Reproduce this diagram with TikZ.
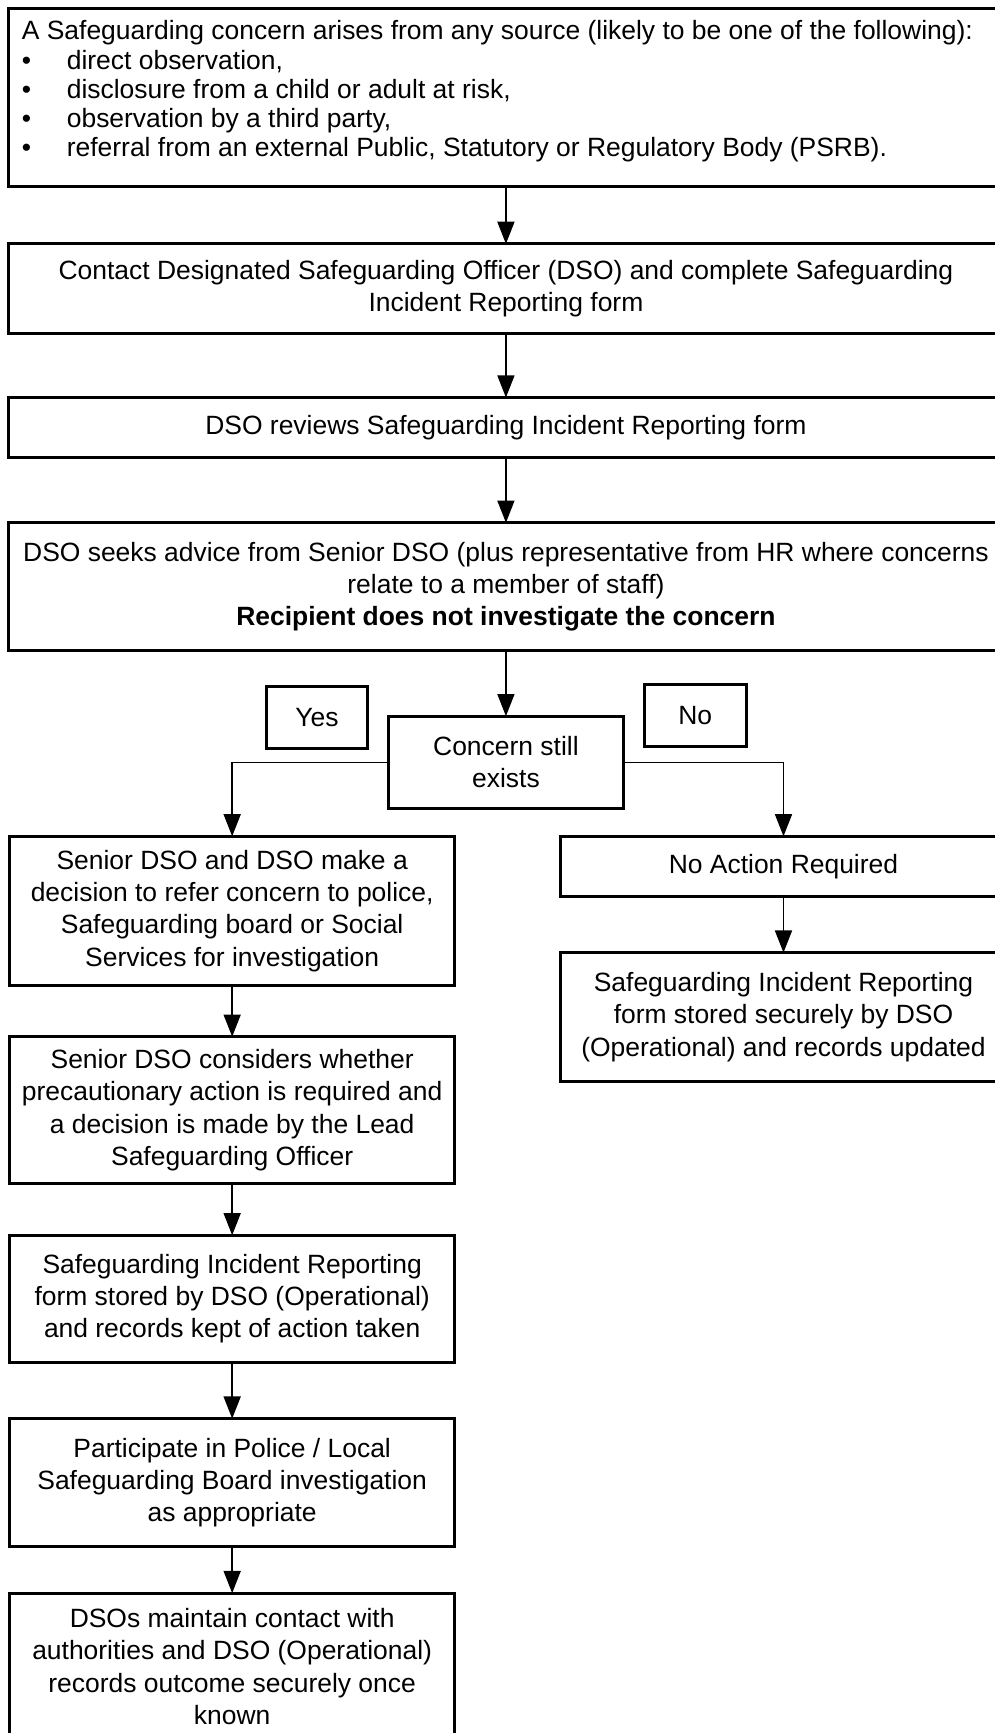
\documentclass[tikz,border=0pt]{standalone}
\usepackage{fontspec}
\setmainfont{Liberation Sans}
\usetikzlibrary{arrows.meta,positioning}

\begin{document}
\begin{tikzpicture}[
  every node/.style={font=\fontsize{11.9pt}{14.5pt}\selectfont,align=center},
  widebox/.style={rectangle,draw=black,line width=1.35pt,outer sep=0pt,
    inner xsep=1pt,minimum width=157.2mm},
  colbox/.style={rectangle,draw=black,line width=1.35pt,outer sep=0pt,
    inner xsep=1pt,minimum width=70.4mm},
  decision/.style={rectangle,draw=black,line width=1.35pt,outer sep=0pt,
    minimum width=37.2mm,minimum height=14.6mm},
  tagbox/.style={rectangle,draw=black,line width=1.35pt,outer sep=0pt,
    minimum width=16mm,minimum height=9.8mm},
  arrow/.style={-{Triangle[length=3.5mm,width=2.7mm]},line width=0.6pt}
]
\useasboundingbox (0,0) rectangle (157.37mm,-274.1mm);
\node[widebox,anchor=north west,align=left,minimum height=28.3mm,
  font=\fontsize{11.9pt}{13.1pt}\selectfont] (sources) at (1.42mm,-1.27mm)
  {A Safeguarding concern arises from any source (likely to be one of the following):\hspace*{7.7pt}\\
   \makebox[20.25pt][l]{\textbullet}direct observation,\\
   \makebox[20.25pt][l]{\textbullet}disclosure from a child or adult at risk,\\
   \makebox[20.25pt][l]{\textbullet}observation by a third party,\\
   \makebox[20.25pt][l]{\textbullet}referral from an external Public, Statutory or Regulatory Body (PSRB).\rule[-8pt]{0pt}{8pt}};
\node[widebox,below=9mm of sources,minimum height=14.2mm] (contact)
  {Contact Designated Safeguarding Officer (DSO) and complete Safeguarding\\Incident Reporting form};
\node[widebox,below=10.1mm of contact,minimum height=9.5mm] (review)
  {DSO reviews Safeguarding Incident Reporting form};
\node[widebox,below=10.3mm of review,minimum height=20.2mm] (advice)
  {DSO seeks advice from Senior DSO (plus representative from HR where concerns\\relate to a member of staff)\\\textbf{Recipient does not investigate the concern}};
\node[decision,below=10.4mm of advice] (exists) {Concern still\\exists};
\node[tagbox,left=3.3mm of exists,yshift=7.1mm] (yes) {Yes};
\node[tagbox,right=3.3mm of exists,yshift=7.4mm,minimum width=16.1mm] (no) {No};
% yes branch
\node[colbox,below=4.4mm of exists,xshift=-43.3mm,minimum height=23.6mm] (refer)
  {Senior DSO and DSO make a\\decision to refer concern to police,\\Safeguarding board or Social\\Services for investigation};
\node[colbox,below=8.1mm of refer,minimum height=23.2mm] (precaution)
  {Senior DSO considers whether\\precautionary action is required and\\a decision is made by the Lead\\Safeguarding Officer};
\node[colbox,below=8.2mm of precaution,minimum height=20.1mm] (stored)
  {Safeguarding Incident Reporting\\form stored by DSO (Operational)\\and records kept of action taken};
\node[colbox,below=8.9mm of stored,minimum height=20.2mm] (participate)
  {Participate in Police / Local\\Safeguarding Board investigation\\as appropriate};
\node[colbox,below=7.4mm of participate,minimum height=23.2mm] (outcome)
  {DSOs maintain contact with\\authorities and DSO (Operational)\\records outcome securely once\\known};
% no branch
\node[colbox,below=4.4mm of exists,xshift=43.9mm,minimum height=9.5mm] (noaction)
  {No Action Required};
\node[colbox,below=8.9mm of noaction,minimum height=20.4mm] (securely)
  {Safeguarding Incident Reporting\\form stored securely by DSO\\(Operational) and records updated};
\draw[arrow] (sources) -- (contact);
\draw[arrow] (contact) -- (review);
\draw[arrow] (review) -- (advice);
\draw[arrow] (advice) -- (exists);
\draw[arrow] (exists.west) -| (refer.north);
\draw[arrow] (exists.east) -| (noaction.north);
\draw[arrow] (refer) -- (precaution);
\draw[arrow] (precaution) -- (stored);
\draw[arrow] (stored) -- (participate);
\draw[arrow] (participate) -- (outcome);
\draw[arrow] (noaction) -- (securely);
\end{tikzpicture}
\end{document}
